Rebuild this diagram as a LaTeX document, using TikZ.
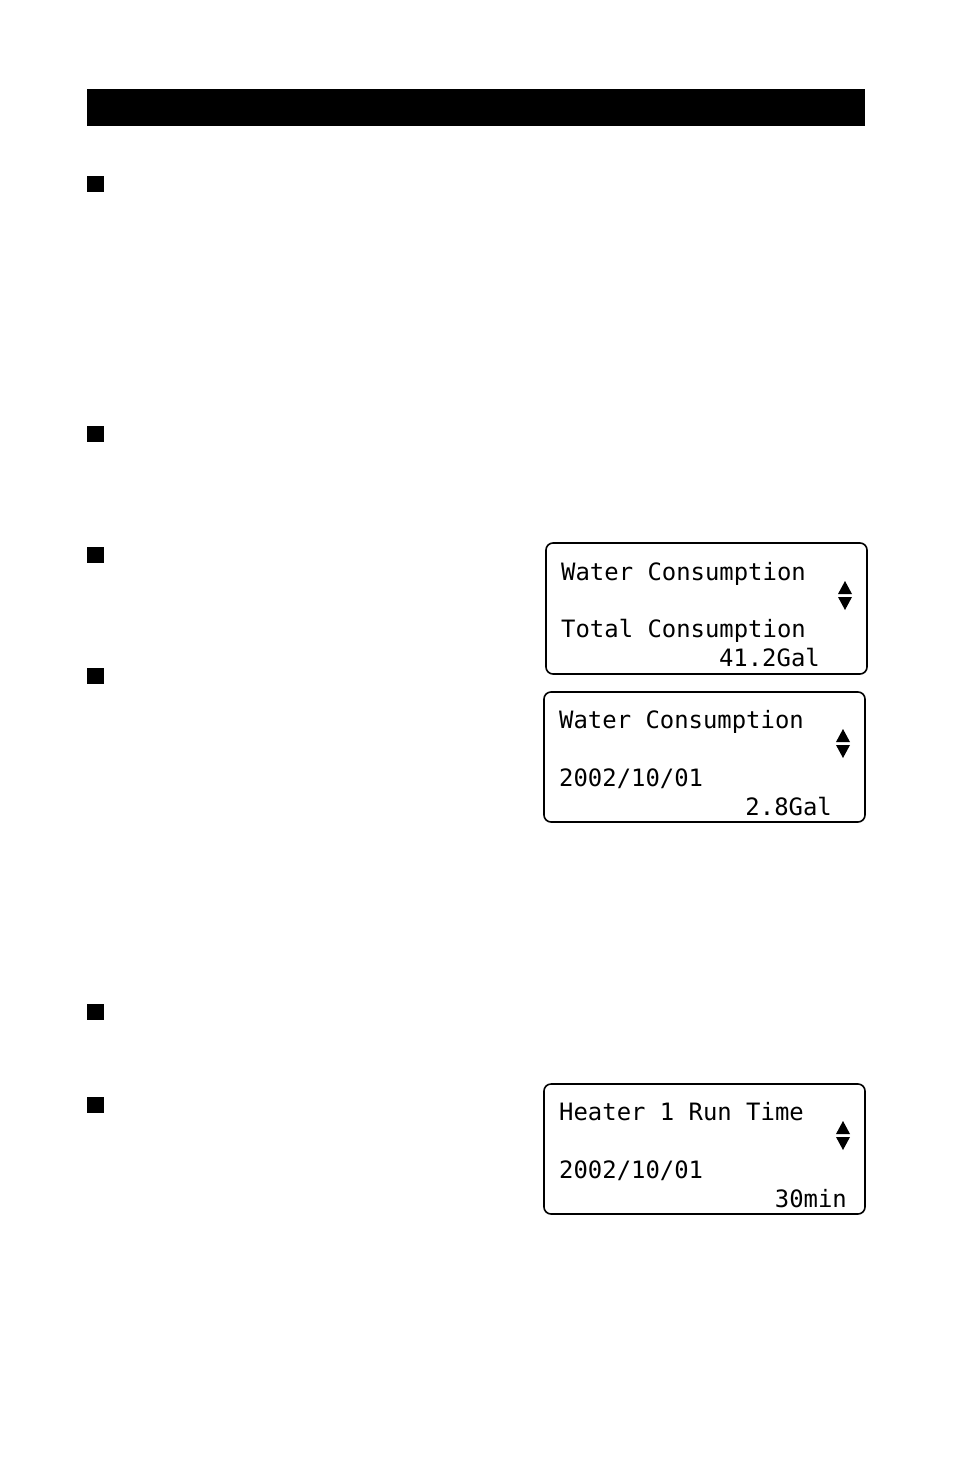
\documentclass[tikz,border=0pt]{standalone}
\usepackage{fontspec}
\newfontfamily\lcd{DejaVu Sans Mono}
\begin{document}
\begin{tikzpicture}[x=1pt,y=-1pt,
  sq/.style={fill=black},
  lcdbox/.style={draw,line width=1.6pt,rounded corners=7pt},
  lt/.style={anchor=base west,inner sep=0,font=\lcd\fontsize{23.9}{24}\selectfont},
  rt/.style={anchor=base east,inner sep=0,font=\lcd\fontsize{23.9}{24}\selectfont}]
\useasboundingbox (0,0) rectangle (954,1475);
\fill (87,89) rectangle (865,126);
\foreach \y in {176,426,547,668,1004,1097} \fill (87,\y) rectangle (104,\y+16);
\newcommand\updn[2]{%
  \fill (#1-7,#2+13) -- (#1+7,#2+13) -- (#1,#2) -- cycle;
  \fill (#1-7,#2+16) -- (#1+7,#2+16) -- (#1,#2+29) -- cycle;}
% box 1
\draw[lcdbox] (546,543) rectangle (867,674);
\node[lt] (a1) at (561,580) {Water Consumption};
\node[lt] (a2) at (561,637) {Total Consumption};
\node[rt] (a3) at (820,666) {41.2Gal};
\updn{845}{581}
% box 2
\draw[lcdbox] (544,692) rectangle (865,822);
\node[lt] (b1) at (559,728) {Water Consumption};
\node[lt] (b2) at (559,786) {2002/10/01};
\node[rt] (b3) at (832,815) {2.8Gal};
\updn{843}{729}
% box 3
\draw[lcdbox] (544,1084) rectangle (865,1214);
\node[lt] (c1) at (559,1120) {Heater 1 Run Time};
\node[lt] (c2) at (559,1178) {2002/10/01};
\node[rt] (c3) at (847,1207) {30min};
\updn{843}{1121}
\end{tikzpicture}
\end{document}
